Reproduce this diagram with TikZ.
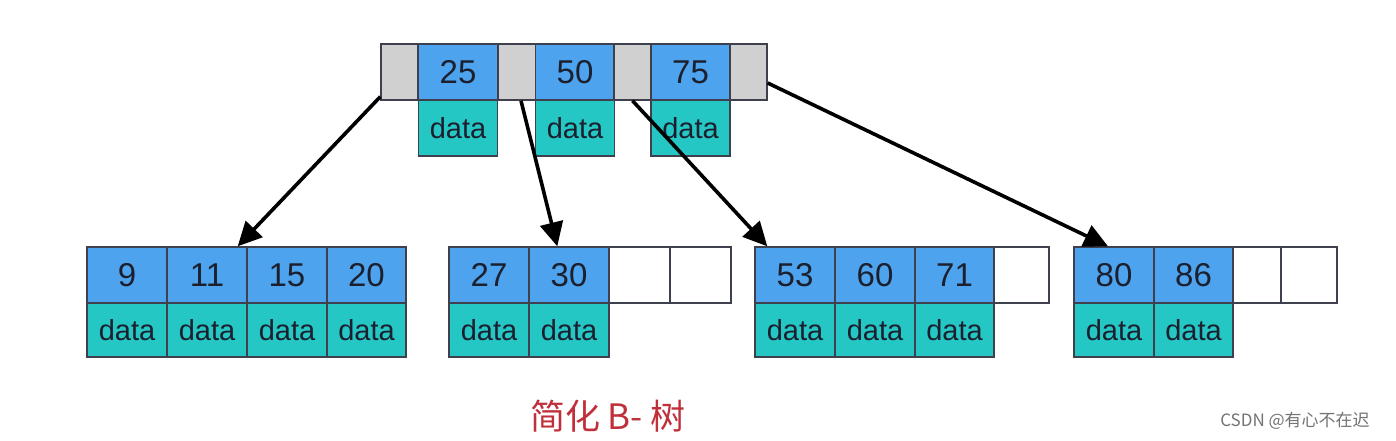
\documentclass[tikz,border=0pt]{standalone}
\usepackage{fontspec}
\setmainfont{Liberation Sans}
\newfontfamily\cjk{Noto Sans CJK SC}
\usetikzlibrary{arrows.meta}

\definecolor{keyblue}{RGB}{77,163,238}
\definecolor{datateal}{RGB}{36,199,196}
\definecolor{ptrgray}{RGB}{208,208,208}
\definecolor{inkdark}{RGB}{28,32,46}
\definecolor{capred}{RGB}{192,48,58}

\begin{document}
\begin{tikzpicture}[x=0.5pt,y=-0.5pt,
        cell/.style={draw=inkdark!85,line width=0.7pt,inner sep=0pt,
            minimum height=28pt,text=inkdark,font=\fontsize{16.5}{18}\selectfont},
        ptr/.style={cell,fill=ptrgray,minimum width=18.5pt},
        key/.style={cell,fill=keyblue,minimum width=40pt},
        dat/.style={cell,fill=datateal,minimum width=40pt,minimum height=27pt,
            font=\fontsize{14.5}{17}\selectfont},
        free/.style={cell,fill=white},
        link/.style={line width=1.8pt,-{Triangle[length=12pt,width=11.5pt]}}]
        \useasboundingbox (0,0) rectangle (1396,440);
        % root
        \node[ptr] (g0) at (399.5,72) {};
        \node[key,minimum width=39.5pt] (k25) at (458,72) {25};
        \node[ptr] (g1) at (517,72) {};
        \node[key,minimum width=39.5pt] (k50) at (575,72) {50};
        \node[ptr] (g2) at (632.5,72) {};
        \node[key,minimum width=39.5pt] (k75) at (690.5,72) {75};
        \node[ptr] (g3) at (748.5,72) {};
        \node[dat,minimum width=39.5pt,minimum height=28pt] (d25) at (458,128) {data};
        \node[dat,minimum width=39.5pt,minimum height=28pt] (d50) at (575,128) {data};
        \node[dat,minimum width=39.5pt,minimum height=28pt] (d75) at (690.5,128) {data};
        % leaf 1
        \node[key] (k9) at (127,275) {9};
        \node[key] (k11) at (207,275) {11};
        \node[key] (k15) at (287,275) {15};
        \node[key,minimum width=39.5pt] (k20) at (366.5,275) {20};
        \node[dat] (d9) at (127,330) {data};
        \node[dat] (d11) at (207,330) {data};
        \node[dat] (d15) at (287,330) {data};
        \node[dat,minimum width=39.5pt] (d20) at (366.5,330) {data};
        % leaf 2
        \node[key] (k27) at (489,275) {27};
        \node[key] (k30) at (569,275) {30};
        \node[free,minimum width=30.5pt] (e21) at (639.5,275) {};
        \node[free,minimum width=30.5pt] (e22) at (700.5,275) {};
        \node[dat] (d27) at (489,330) {data};
        \node[dat] (d30) at (569,330) {data};
        % leaf 3
        \node[key] (k53) at (795,275) {53};
        \node[key] (k60) at (875,275) {60};
        \node[key,minimum width=39.5pt] (k71) at (954.5,275) {71};
        \node[free,minimum width=27.5pt] (e31) at (1021.5,275) {};
        \node[dat] (d53) at (795,330) {data};
        \node[dat] (d60) at (875,330) {data};
        \node[dat,minimum width=39.5pt] (d71) at (954.5,330) {data};
        % leaf 4
        \node[key] (k80) at (1114,275) {80};
        \node[key,minimum width=39.5pt] (k86) at (1193.5,275) {86};
        \node[free,minimum width=24pt] (e41) at (1257,275) {};
        \node[free,minimum width=28pt] (e42) at (1309,275) {};
        \node[dat] (d80) at (1114,330) {data};
        \node[dat,minimum width=39.5pt] (d86) at (1193.5,330) {data};
        % pointers
        \draw[link] ([yshift=2pt]g0.south west) -- ([xshift=-5pt]k11.north east);
        \draw[link] ([xshift=2pt]g1.south) -- ([xshift=14.5pt]k30.north west);
        \draw[link] (g2.south) -- ([xshift=6.5pt]k53.north west);
        \draw[link] ([yshift=-5.5pt]g3.east) -- ([xshift=-3pt]k80.north);
        % captions
        \node[text=capred,font=\cjk\fontsize{17.5}{19}\selectfont] (cap) at (608,416) {简化 B- 树};
        \node[text=black!55,font=\cjk\fontsize{8.5}{10}\selectfont] (mark) at (1295,421) {CSDN @有心不在迟};
\end{tikzpicture}
\end{document}
